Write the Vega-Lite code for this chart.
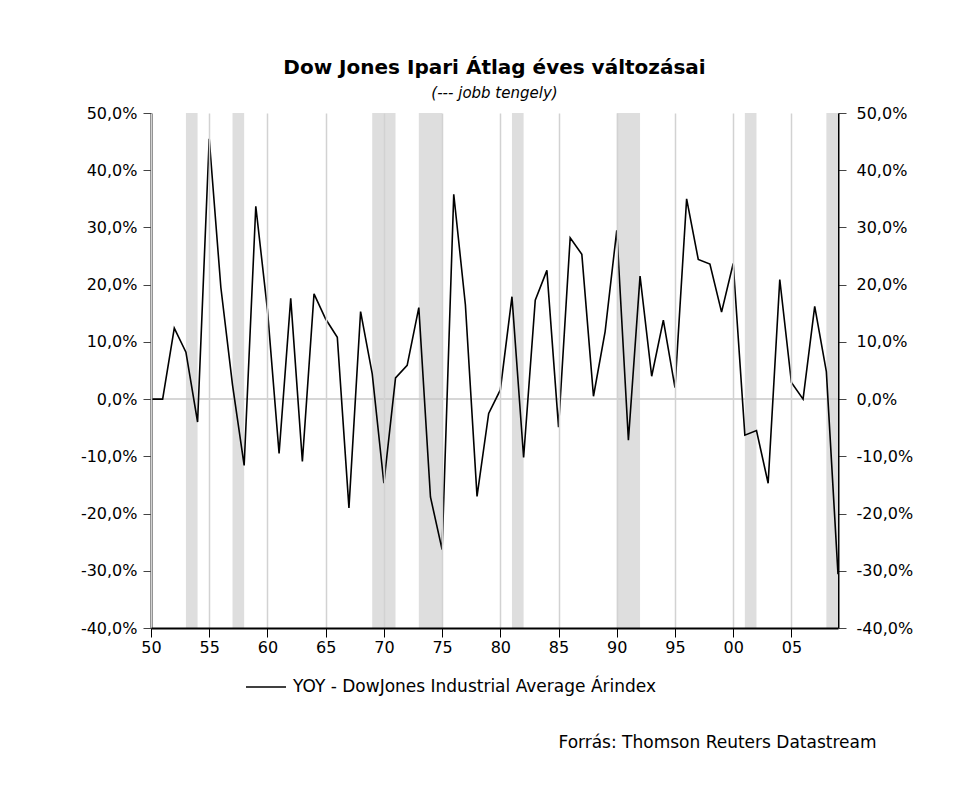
{
  "$schema": "https://vega.github.io/schema/vega-lite/v6.json",
  "autosize": {"type": "none"},
  "padding": {"left": 151, "top": 113, "right": 123, "bottom": 160},
  "width": 687,
  "height": 515,
  "background": "white",
  "title": {
    "text": "Dow Jones Ipari Átlag éves változásai",
    "subtitle": "(--- jobb tengely)",
    "anchor": "middle",
    "frame": "group",
    "fontSize": 20,
    "fontWeight": "bold",
    "color": "black",
    "subtitleFontSize": 15,
    "subtitleFontStyle": "italic",
    "subtitleColor": "black",
    "subtitlePadding": 8,
    "offset": 4
  },
  "datasets": {
    "yoy": [
      {"year": 1950, "value": 0.0}, {"year": 1951, "value": 0.0}, {"year": 1952, "value": 12.4},
      {"year": 1953, "value": 8.2}, {"year": 1954, "value": -4.0}, {"year": 1955, "value": 45.5},
      {"year": 1956, "value": 19.5}, {"year": 1957, "value": 2.5}, {"year": 1958, "value": -11.6},
      {"year": 1959, "value": 33.7}, {"year": 1960, "value": 15.6}, {"year": 1961, "value": -9.5},
      {"year": 1962, "value": 17.6}, {"year": 1963, "value": -10.9}, {"year": 1964, "value": 18.4},
      {"year": 1965, "value": 14.0}, {"year": 1966, "value": 10.8}, {"year": 1967, "value": -19.0},
      {"year": 1968, "value": 15.3}, {"year": 1969, "value": 4.4}, {"year": 1970, "value": -14.7},
      {"year": 1971, "value": 3.7}, {"year": 1972, "value": 5.9}, {"year": 1973, "value": 16.0},
      {"year": 1974, "value": -17.1}, {"year": 1975, "value": -26.3}, {"year": 1976, "value": 35.8},
      {"year": 1977, "value": 16.5}, {"year": 1978, "value": -17.0}, {"year": 1979, "value": -2.5},
      {"year": 1980, "value": 1.6}, {"year": 1981, "value": 17.9}, {"year": 1982, "value": -10.2},
      {"year": 1983, "value": 17.3}, {"year": 1984, "value": 22.5}, {"year": 1985, "value": -4.9},
      {"year": 1986, "value": 28.2}, {"year": 1987, "value": 25.3}, {"year": 1988, "value": 0.5},
      {"year": 1989, "value": 11.8}, {"year": 1990, "value": 29.5}, {"year": 1991, "value": -7.2},
      {"year": 1992, "value": 21.5}, {"year": 1993, "value": 4.0}, {"year": 1994, "value": 13.8},
      {"year": 1995, "value": 2.0}, {"year": 1996, "value": 35.0}, {"year": 1997, "value": 24.4},
      {"year": 1998, "value": 23.6}, {"year": 1999, "value": 15.2}, {"year": 2000, "value": 23.7},
      {"year": 2001, "value": -6.3}, {"year": 2002, "value": -5.5}, {"year": 2003, "value": -14.7},
      {"year": 2004, "value": 20.9}, {"year": 2005, "value": 2.9}, {"year": 2006, "value": 0.0},
      {"year": 2007, "value": 16.2}, {"year": 2008, "value": 4.8}, {"year": 2009, "value": -30.6}
    ],
    "bands": [
      {"start": 1953, "end": 1954}, {"start": 1957, "end": 1958}, {"start": 1969, "end": 1971},
      {"start": 1973, "end": 1975}, {"start": 1981, "end": 1982}, {"start": 1990, "end": 1992},
      {"start": 2001, "end": 2002}, {"start": 2008, "end": 2009}
    ],
    "zero": [{"v": 0}]
  },
  "layer": [
    {
      "data": {"name": "bands"},
      "mark": {"type": "rect", "color": "#dedede"},
      "encoding": {
        "x": {
          "field": "start", "type": "quantitative",
          "scale": {"domain": [1950, 2009], "nice": false, "zero": false},
          "axis": {
            "values": [1950, 1955, 1960, 1965, 1970, 1975, 1980, 1985, 1990, 1995, 2000, 2005],
            "labelExpr": "format(datum.value % 100, '02d')",
            "grid": true, "gridColor": "#d2d2d2", "gridWidth": 1.5,
            "domainColor": "black", "domainWidth": 2,
            "tickColor": "black", "tickSize": 9, "tickWidth": 1,
            "labelFontSize": 16, "labelColor": "black", "labelPadding": 2,
            "labelFlush": false,
            "title": "Forrás: Thomson Reuters Datastream",
            "titleFontSize": 17, "titleFontWeight": "normal", "titleColor": "black",
            "titleX": 725, "titleY": 114, "titleAlign": "right", "titleBaseline": "middle",
            "zindex": 1
          }
        },
        "x2": {"field": "end"}
      }
    },
    {
      "data": {"name": "zero"},
      "mark": {"type": "rule", "color": "#c8c8c8", "strokeWidth": 1.5},
      "encoding": {
        "y": {
          "field": "v", "type": "quantitative",
          "scale": {"domain": [-40, 50], "nice": false, "zero": false},
          "axis": {
            "orient": "left",
            "values": [-40, -30, -20, -10, 0, 10, 20, 30, 40, 50],
            "labelExpr": "(datum.value < 0 ? '-' : '') + replace(format(abs(datum.value), '.1f'), '.', ',') + '%'",
            "grid": false, "title": null,
            "domainColor": "black", "domainWidth": 2,
            "tickColor": "#444", "tickSize": 8,
            "labelFontSize": 16, "labelColor": "black", "labelPadding": 6
          }
        }
      }
    },
    {
      "data": {"name": "yoy"},
      "mark": {"type": "line", "strokeWidth": 1.6},
      "encoding": {
        "x": {"field": "year", "type": "quantitative"},
        "y": {
          "field": "value", "type": "quantitative",
          "scale": {"domain": [-40, 50], "nice": false, "zero": false},
          "axis": {
            "orient": "right",
            "values": [-40, -30, -20, -10, 0, 10, 20, 30, 40, 50],
            "labelExpr": "(datum.value < 0 ? '-' : '') + replace(format(abs(datum.value), '.1f'), '.', ',') + '%'",
            "grid": false, "title": null,
            "domainColor": "black", "domainWidth": 2,
            "tickColor": "#444", "tickSize": 8,
            "labelFontSize": 16, "labelColor": "black", "labelPadding": 10
          }
        },
        "color": {
          "datum": "YOY - DowJones Industrial Average Árindex",
          "type": "nominal",
          "scale": {"range": ["black"]},
          "legend": {
            "orient": "none", "legendX": 94, "legendY": 553,
            "title": null, "symbolType": "stroke", "symbolSize": 1600,
            "symbolStrokeWidth": 1.5, "labelFontSize": 17, "labelColor": "black",
            "labelOffset": 6, "labelLimit": 0
          }
        }
      }
    }
  ],
  "resolve": {"scale": {"y": "independent"}, "axis": {"y": "independent"}},
  "config": {
    "font": "DejaVu Sans",
    "view": {"stroke": null}
  }
}
